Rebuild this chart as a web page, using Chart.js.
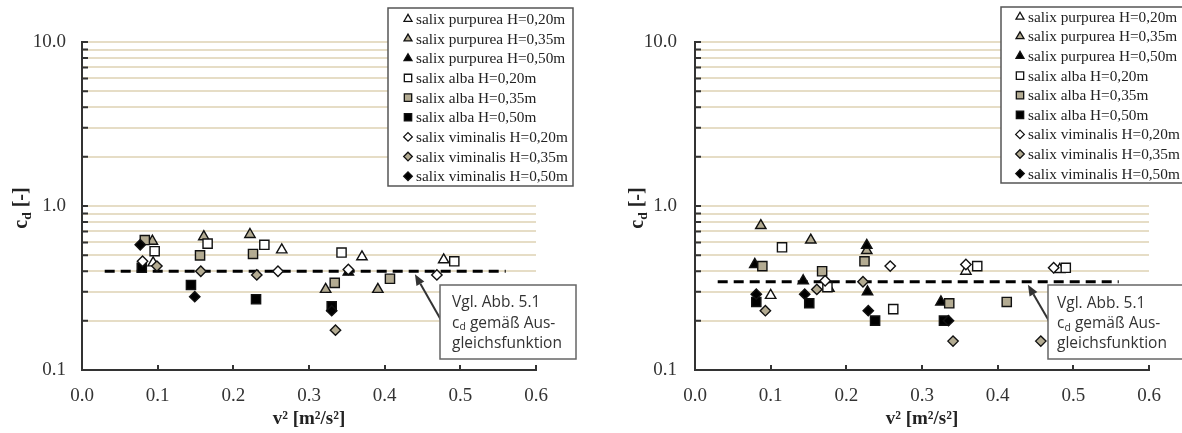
<!DOCTYPE html>
<html><head><meta charset="utf-8">
<script src="https://cdn.jsdelivr.net/npm/chart.js@4.4.0/dist/chart.umd.min.js"></script>
<style>
html,body{margin:0;padding:0;background:#fff;width:1182px;height:433px;overflow:hidden;}
#c1{position:absolute;left:0;top:0;}
#c2{position:absolute;left:600px;top:0;}
</style></head><body>
<canvas id="c1" width="600" height="433"></canvas>
<canvas id="c2" width="582" height="433"></canvas>
<script>
// ---------- categories / labels ----------
const seriesLabels = ['salix purpurea H=0,20m','salix purpurea H=0,35m','salix purpurea H=0,50m',
  'salix alba H=0,20m','salix alba H=0,35m','salix alba H=0,50m',
  'salix viminalis H=0,20m','salix viminalis H=0,35m','salix viminalis H=0,50m'];
const xTickValues = [0, 0.1, 0.2, 0.3, 0.4, 0.5, 0.6];
const xTickLabels = ['0.0','0.1','0.2','0.3','0.4','0.5','0.6'];
const yGridValues = [0.1,0.2,0.3,0.4,0.5,0.6,0.7,0.8,0.9,1,2,3,4,5,6,7,8,9,10];
const yDecadeValues = [0.1, 1, 10];
const yDecadeLabels = ['0.1','1.0','10.0'];
const xTitle = 'v² [m²/s²]';
const noteLines = ['Vgl. Abb. 5.1', 'gemäß Aus-', 'gleichsfunktion'];

// ---------- left panel values [v², cd] ----------
const leftPurpurea20 = [[0.094,0.45],[0.264,0.54],[0.370,0.49],[0.478,0.47]];
const leftPurpurea35 = [[0.093,0.61],[0.161,0.65],[0.222,0.67],[0.322,0.31],[0.391,0.31]];
const leftPurpurea50 = [[0.352,0.395]];
const leftAlba20 = [[0.096,0.53],[0.166,0.59],[0.241,0.58],[0.343,0.52],[0.492,0.46]];
const leftAlba35 = [[0.083,0.62],[0.156,0.50],[0.226,0.51],[0.334,0.34],[0.407,0.36]];
const leftAlba50 = [[0.079,0.42],[0.144,0.33],[0.230,0.27],[0.330,0.245]];
const leftViminalis20 = [[0.080,0.46],[0.259,0.40],[0.352,0.41],[0.469,0.38]];
const leftViminalis35 = [[0.099,0.43],[0.157,0.40],[0.231,0.38],[0.335,0.175]];
const leftViminalis50 = [[0.077,0.58],[0.149,0.28],[0.330,0.23]];
const leftCdLine = 0.40;

// ---------- right panel values [v², cd] ----------
const rightPurpurea20 = [[0.100,0.285],[0.177,0.315],[0.358,0.40],[0.482,0.41]];
const rightPurpurea35 = [[0.087,0.76],[0.153,0.62],[0.227,0.535]];
const rightPurpurea50 = [[0.079,0.44],[0.143,0.35],[0.227,0.575],[0.228,0.30],[0.325,0.26]];
const rightAlba20 = [[0.115,0.56],[0.175,0.32],[0.262,0.235],[0.373,0.43],[0.490,0.42]];
const rightAlba35 = [[0.089,0.43],[0.168,0.40],[0.224,0.46],[0.336,0.255],[0.412,0.26]];
const rightAlba50 = [[0.081,0.26],[0.151,0.255],[0.238,0.20],[0.329,0.20]];
const rightViminalis20 = [[0.172,0.35],[0.258,0.43],[0.358,0.44],[0.474,0.42]];
const rightViminalis35 = [[0.093,0.23],[0.161,0.31],[0.222,0.345],[0.341,0.15],[0.457,0.15]];
const rightViminalis50 = [[0.081,0.29],[0.145,0.29],[0.229,0.23],[0.335,0.20]];
const rightCdLine = 0.345;

const cdLineStart = 0.03, cdLineEnd = 0.56, arrowTipX = 0.44;

// ---------- styles ----------
const seriesShapes = ['triangle','triangle','triangle','rect','rect','rect','rectRot','rectRot','rectRot'];
const GRAY = '#b3ab92';
const seriesFills = ['#ffffff',GRAY,'#000000','#ffffff',GRAY,'#000000','#ffffff',GRAY,'#000000'];
const shapeRadius = {triangle:6, rect:6.5, rectRot:5.2};
const legendRadius = {triangle:4.6, rect:5.2, rectRot:4.3};
const SERIF = '"Liberation Serif", "Times New Roman", serif';
const SANS = '"Open Sans", "Noto Sans", sans-serif';

function labelFor(v){
  for (let i=0;i<yDecadeValues.length;i++) if (Math.abs(v-yDecadeValues[i])<1e-9) return yDecadeLabels[i];
  return '';
}

function drawArrow(ctx, x0, y0, x1, y1){
  const ang = Math.atan2(y1-y0, x1-x0), L = 11, W = 4.5;
  const bx = x1 - L*Math.cos(ang), by = y1 - L*Math.sin(ang);
  ctx.strokeStyle = '#333'; ctx.fillStyle = '#333'; ctx.lineWidth = 2;
  ctx.beginPath(); ctx.moveTo(x0,y0); ctx.lineTo(bx,by); ctx.stroke();
  ctx.beginPath();
  ctx.moveTo(x1,y1);
  ctx.lineTo(bx + W*Math.sin(ang), by - W*Math.cos(ang));
  ctx.lineTo(bx - W*Math.sin(ang), by + W*Math.cos(ang));
  ctx.closePath(); ctx.fill();
}

const decoPlugin = {
  id: 'deco',
  afterDraw(chart, args, o){
    const ctx = chart.ctx, ca = chart.chartArea;
    const xs = chart.scales.x, ys = chart.scales.y;
    ctx.save();
    // inside tick marks
    ctx.strokeStyle = '#333'; ctx.lineWidth = 2;
    ctx.beginPath();
    xTickValues.forEach(v => { if (v === 0) return; const p = Math.round(xs.getPixelForValue(v)); ctx.moveTo(p, ca.bottom); ctx.lineTo(p, ca.bottom-5); });
    yGridValues.forEach(v => { if (v === 0.1) return; const p = ys.getPixelForValue(v); ctx.moveTo(ca.left, p); ctx.lineTo(ca.left+6, p); });
    ctx.stroke();

    // y title c_d [-]
    ctx.save();
    ctx.translate(o.yTitleX, o.yTitleY); ctx.rotate(-Math.PI/2);
    const big = 'bold 20px ' + SERIF, small = 'bold 13.5px ' + SERIF;
    ctx.font = big; const w1 = ctx.measureText('c').width, w3 = ctx.measureText(' [-]').width;
    ctx.font = small; const w2 = ctx.measureText('d').width;
    let tx = -(w1+w2+w3)/2;
    ctx.fillStyle = '#222'; ctx.textBaseline = 'alphabetic'; ctx.textAlign = 'left';
    ctx.font = big; ctx.fillText('c', tx, 5); tx += w1;
    ctx.font = small; ctx.fillText('d', tx, 9); tx += w2;
    ctx.font = big; ctx.fillText(' [-]', tx, 5);
    ctx.restore();

    // x title
    ctx.font = 'bold 19px ' + SERIF; ctx.fillStyle = '#222';
    ctx.textAlign = 'center'; ctx.textBaseline = 'middle';
    ctx.fillText(xTitle, (ca.left+ca.right)/2, o.xTitleY);

    // legend box
    const lb = o.legendBox;
    ctx.fillStyle = '#fff'; ctx.fillRect(lb.x, lb.y, lb.w, lb.h);
    ctx.strokeStyle = '#555'; ctx.lineWidth = 1.5; ctx.strokeRect(lb.x, lb.y, lb.w, lb.h);
    ctx.font = '15.3px ' + SERIF; ctx.textAlign = 'left'; ctx.textBaseline = 'middle';
    seriesLabels.forEach((lab, i) => {
      const y = lb.row0 + i*lb.step;
      ctx.fillStyle = seriesFills[i]; ctx.strokeStyle = '#111'; ctx.lineWidth = 1.3;
      Chart.helpers.drawPoint(ctx, {pointStyle: seriesShapes[i], radius: legendRadius[seriesShapes[i]], rotation: 0, borderWidth: 1.3}, lb.markerX, y);
      ctx.fillStyle = '#222';
      ctx.fillText(lab, lb.textX, y+1);
    });

    // arrow + note box
    const nb = o.noteBox;
    const tipX = xs.getPixelForValue(arrowTipX), tipY = ys.getPixelForValue(o.cd) + 3;
    drawArrow(ctx, nb.x + 1, nb.arrowY, tipX, tipY);
    ctx.fillStyle = '#fff'; ctx.fillRect(nb.x, nb.y, nb.w, nb.h);
    ctx.strokeStyle = '#666'; ctx.lineWidth = 1.5; ctx.strokeRect(nb.x, nb.y, nb.w, nb.h);
    ctx.fillStyle = '#333'; ctx.textAlign = 'left'; ctx.textBaseline = 'middle';
    const nf = '15.5px ' + SANS, nfs = '10.5px ' + SANS;
    ctx.font = nf; ctx.fillText(noteLines[0], nb.textX, nb.line0);
    ctx.fillText('c', nb.textX, nb.line0 + nb.step);
    const cw = ctx.measureText('c').width;
    ctx.font = nfs; ctx.fillText('d', nb.textX + cw, nb.line0 + nb.step + 4);
    const dw = ctx.measureText('d').width;
    ctx.font = nf; ctx.fillText(' ' + noteLines[1], nb.textX + cw + dw, nb.line0 + nb.step);
    ctx.fillText(noteLines[2], nb.textX, nb.line0 + 2*nb.step);
    ctx.restore();
  }
};

function makePanel(canvasId, seriesData, cd, lay){
  const datasets = seriesData.map((arr, i) => ({
    type: 'scatter',
    label: seriesLabels[i],
    data: arr.map(([x,y]) => ({x, y})),
    pointStyle: seriesShapes[i],
    pointRadius: shapeRadius[seriesShapes[i]],
    backgroundColor: seriesFills[i],
    borderColor: '#111',
    borderWidth: 1.4,
    order: 20 - i
  }));
  datasets.push({
    type: 'line', label: 'cd', data: [{x: cdLineStart, y: cd}, {x: cdLineEnd, y: cd}],
    borderColor: '#000', borderWidth: 3, borderDash: [10, 6], pointRadius: 0, fill: false, order: 100
  });
  return new Chart(document.getElementById(canvasId), {
    data: { datasets },
    options: {
      responsive: false, maintainAspectRatio: false, animation: false, events: [],
      layout: { padding: { left: 0, top: lay.top, right: lay.right, bottom: 0 } },
      plugins: {
        legend: { display: false }, tooltip: { enabled: false },
        deco: { cd, yTitleX: lay.yTitleX, yTitleY: 208, xTitleY: 419, legendBox: lay.legendBox, noteBox: lay.noteBox }
      },
      scales: {
        x: {
          type: 'linear', min: 0, max: 0.6,
          afterBuildTicks: s => { s.ticks = xTickValues.map(v => ({value: v})); },
          afterFit: s => { s.height = 433 - 370; },
          ticks: { autoSkip: false, maxRotation: 0, padding: 15, color: '#333',
            font: { family: SERIF, size: 19 },
            callback: (v, i) => xTickLabels[i] },
          grid: { display: false, drawTicks: false },
          border: { color: '#333', width: 2 }
        },
        y: {
          type: 'logarithmic', min: 0.1, max: 10,
          afterBuildTicks: s => { s.ticks = yGridValues.map(v => ({value: v})); },
          afterFit: s => { s.width = lay.left; },
          ticks: { autoSkip: false, padding: lay.yPad, color: '#333',
            font: { family: SERIF, size: 19 },
            callback: v => labelFor(v) },
          grid: { color: c => (c.tick && Math.abs(c.tick.value - 0.1) < 1e-9) ? 'rgba(0,0,0,0)' : '#e6ddc6', lineWidth: 2, drawTicks: false },
          border: { color: '#333', width: 2 }
        }
      }
    },
    plugins: [decoPlugin]
  });
}

makePanel('c1',
  [leftPurpurea20, leftPurpurea35, leftPurpurea50, leftAlba20, leftAlba35, leftAlba50, leftViminalis20, leftViminalis35, leftViminalis50],
  leftCdLine,
  { left: 82, right: 600 - 536, top: 42, yPad: 16, yTitleX: 22,
    legendBox: { x: 388, y: 8, w: 185, h: 178, row0: 19, step: 19.65, markerX: 408, textX: 416 },
    noteBox: { x: 440, y: 285, w: 136, h: 74, arrowY: 320, textX: 452, line0: 303, step: 20.5 } });

makePanel('c2',
  [rightPurpurea20, rightPurpurea35, rightPurpurea50, rightAlba20, rightAlba35, rightAlba50, rightViminalis20, rightViminalis35, rightViminalis50],
  rightCdLine,
  { left: 95, right: 582 - 549, top: 42, yPad: 18, yTitleX: 38,
    legendBox: { x: 401, y: 7, w: 190, h: 176, row0: 16.8, step: 19.6, markerX: 420, textX: 428 },
    noteBox: { x: 448, y: 285, w: 140, h: 74, arrowY: 321, textX: 457, line0: 304, step: 20 } });
</script>
</body></html>
